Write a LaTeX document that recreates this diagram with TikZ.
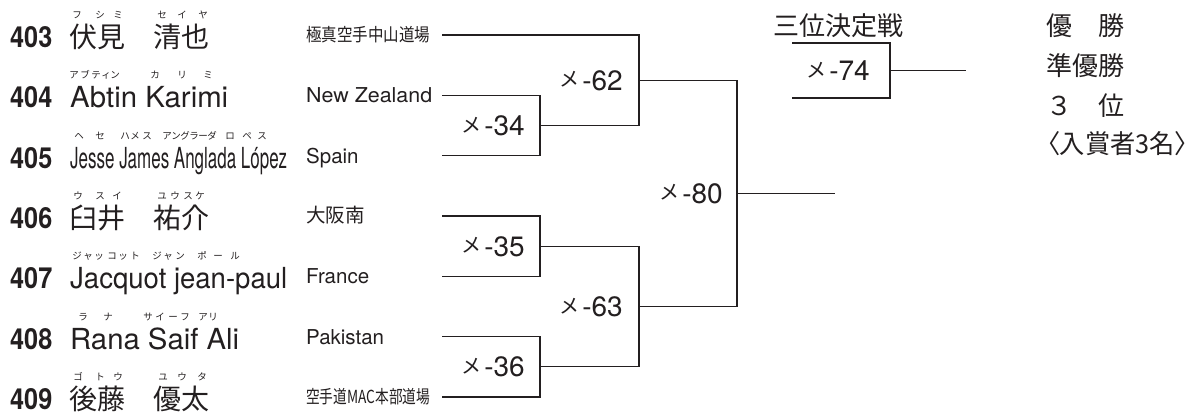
\documentclass[tikz,border=0pt]{standalone}
\usepackage{fontspec}
\usepackage{graphicx}
\setmainfont{TeX Gyre Heros}
\newfontfamily\jp{Noto Sans CJK JP}
\newfontfamily\jpp[RawFeature=+palt]{Noto Sans CJK JP}
\newcommand\fs[1]{\fontsize{#1}{#1}\selectfont}
\newcommand\sqz[2]{\resizebox{#1}{\height}{#2}}
\newcommand\mlab[1]{\raisebox{3.5pt}{\jp\fs{20}メ}\kern2.5pt{\fs{28}-#1}}
\newcommand\entry[1]{\scalebox{0.87}[1]{\fs{29}\bfseries #1}}
\definecolor{ink}{RGB}{35,31,32}
\begin{document}
\begin{tikzpicture}[x=1pt,y=-1pt,
  num/.style={anchor=base west,inner sep=0pt,text=ink},
  pname/.style={anchor=base west,inner sep=0pt,text=ink},
  furi/.style={anchor=base,inner sep=0pt,font=\jp\fs{9.5},text=ink},
  club/.style={anchor=base west,inner sep=0pt,text=ink},
  match/.style={anchor=base east,inner sep=0pt,text=ink},
  prize/.style={anchor=base west,inner sep=0pt,font=\jp\fs{26},text=ink},
  bline/.style={line width=1.25pt,draw=ink}]
\useasboundingbox (0,0) rectangle (1197,415);
\fill[white] (0,0) rectangle (1197,415);

% entry numbers
\node[num] (n1) at (10,47.5) {\entry{403}};
\node[num] (n2) at (10,107.8) {\entry{404}};
\node[num] (n3) at (10,168.2) {\entry{405}};
\node[num] (n4) at (10,228.5) {\entry{406}};
\node[num] (n5) at (10,288.8) {\entry{407}};
\node[num] (n6) at (10,349.2) {\entry{408}};
\node[num] (n7) at (10,409.5) {\entry{409}};

% player names
\node[pname] (p1) at (69,47.5) {\jp\fs{28}伏見　清也};
\node[pname] (p2) at (70,107.8) {\sqz{158pt}{\fs{29}Abtin Karimi}};
\node[pname] (p3) at (70,168.2) {\sqz{217pt}{\fs{29}Jesse James Anglada López}};
\node[pname] (p4) at (69,228.5) {\jp\fs{28}臼井　祐介};
\node[pname] (p5) at (70,288.8) {\sqz{217pt}{\fs{29}Jacquot jean-paul}};
\node[pname] (p6) at (70,349.2) {\sqz{169pt}{\fs{29}Rana Saif Ali}};
\node[pname] (p7) at (69,409.5) {\jp\fs{28}後藤　優太};

% furigana
\foreach \x/\c [count=\i] in {77/フ,100/シ,118/ミ,162/セ,182/イ,203/ヤ}
  \node[furi] (fa\i) at (\x,18.6) {\c};
\foreach \x/\c [count=\i] in {74/ア,85/ブ,96/テ,106/ィ,115/ン,155/カ,182/リ,208/ミ}
  \node[furi] (fb\i) at (\x,78.9) {\c};
\foreach \x/\c [count=\i] in {79/ヘ,100/セ,125/ハ,135/メ,147/ス,167/ア,176/ン,185/グ,194/ラ,203/ー,212/ダ,230/ロ,247/ペ,262/ス}
  \node[furi] (fc\i) at (\x,139.3) {\c};
\foreach \x/\c [count=\i] in {78/ウ,100/ス,117/イ,162/ユ,175/ウ,188/ス,200/ケ}
  \node[furi] (fd\i) at (\x,199.6) {\c};
\foreach \x/\c [count=\i] in {77/ジ,88/ャ,99/ッ,112/コ,123/ッ,135/ト,157/ジ,168/ャ,180/ン,202/ポ,218/ー,235/ル}
  \node[furi] (fe\i) at (\x,259.9) {\c};
\foreach \x/\c [count=\i] in {83/ラ,108/ナ,148/サ,160/イ,173/ー,185/フ,203/ア,213/リ}
  \node[furi] (ff\i) at (\x,320.3) {\c};
\foreach \x/\c [count=\i] in {78/ゴ,100/ト,118/ウ,163/ユ,182/ウ,202/タ}
  \node[furi] (fg\i) at (\x,380.6) {\c};

% clubs
\node[club] (c1) at (306,41.5) {\sqz{124pt}{\jp\fs{18}極真空手中山道場}};
\node[club] (c2) at (306,102.6) {\sqz{126pt}{\fs{20.5}New Zealand}};
\node[club] (c3) at (306,163) {\fs{20.5}Spain};
\node[club] (c4) at (306,222.8) {\jp\fs{19.5}大阪南};
\node[club] (c5) at (306,283.6) {\fs{20.5}France};
\node[club] (c6) at (306,344) {\fs{20.5}Pakistan};
\node[club] (c7) at (306,403.5) {\sqz{124pt}{\jp\fs{18}空手道MAC本部道場}};

% bracket points
\coordinate (s1) at (442,35);
\coordinate (s2) at (442,95.3);
\coordinate (s3) at (442,155.7);
\coordinate (s4) at (442,216);
\coordinate (s5) at (442,276.3);
\coordinate (s6) at (442,336.7);
\coordinate (s7) at (442,397);
\coordinate (j34) at (540,125.5);
\coordinate (j35) at (540,246.15);
\coordinate (j36) at (540,366.85);
\coordinate (j62) at (639,80.25);
\coordinate (j63) at (639,306.5);
\coordinate (j80) at (737,193.4);
\coordinate (fin) at (835,193.4);

\draw[bline] (s2) -| (j34) |- (s3);
\draw[bline] (s4) -| (j35) |- (s5);
\draw[bline] (s6) -| (j36) |- (s7);
\draw[bline] (s1) -| (j62) |- (j34);
\draw[bline] (j35) -| (j63) |- (j36);
\draw[bline] (j62) -| (j80) |- (j63);
\draw[bline] (j80) -- (fin);

% third place
\coordinate (t1) at (792,43);
\coordinate (t2) at (792,98);
\coordinate (j74) at (890,70.5);
\coordinate (t74) at (966,70.5);
\draw[bline] (t1) -| (j74) |- (t2);
\draw[bline] (j74) -- (t74);
\node[anchor=base,inner sep=0pt,text=ink,font=\jp\fs{26}] (third) at (838,35) {三位決定戦};

% match labels
\node[match] (m34) at (525,135.5) {\mlab{34}};
\node[match] (m35) at (525,256.2) {\mlab{35}};
\node[match] (m36) at (525,376.9) {\mlab{36}};
\node[match] (m62) at (623,90.3) {\mlab{62}};
\node[match] (m63) at (623,316.5) {\mlab{63}};
\node[match] (m80) at (723,203.4) {\mlab{80}};
\node[match] (m74) at (870,80.5) {\mlab{74}};

% prizes
\node[prize] (w1) at (1046,35) {優　勝};
\node[prize] (w2) at (1046,75) {準優勝};
\node[prize] (w3) at (1046,115) {３　位};
\node[prize] (w4) at (1047,153) {\sqz{140pt}{\jpp\fs{26}〈入賞者3名〉}};
\end{tikzpicture}
\end{document}
